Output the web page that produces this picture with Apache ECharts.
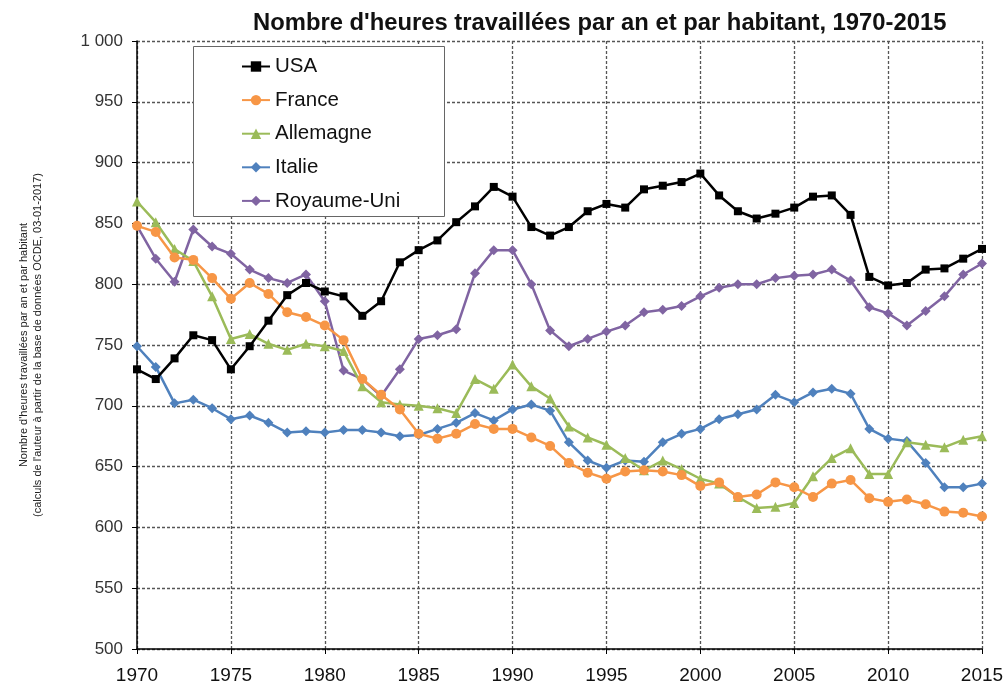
<!DOCTYPE html>
<html><head><meta charset="utf-8">
<script src="https://cdn.jsdelivr.net/npm/echarts@6/dist/echarts.min.js"></script>
<style>html,body{margin:0;padding:0;background:#fff}#c{width:1007px;height:688px}</style>
</head><body><div id="c"></div>
<script>
var years = [1970,1971,1972,1973,1974,1975,1976,1977,1978,1979,1980,1981,1982,1983,1984,1985,1986,1987,1988,1989,1990,1991,1992,1993,1994,1995,1996,1997,1998,1999,2000,2001,2002,2003,2004,2005,2006,2007,2008,2009,2010,2011,2012,2013,2014,2015];
var usa = [730,722,739,758,754,730,749,770,791,801,794,790,774,786,818,828,836,851,864,880,872,847,840,847,860,866,863,878,881,884,891,873,860,854,858,863,872,873,857,806,799,801,812,813,821,829];
var france = [848,843,822,820,805,788,801,792,777,773,766,754,722,709,697,677,673,677,685,681,681,674,667,653,645,640,646,647,646,643,634,637,625,627,637,633,625,636,639,624,621,623,619,613,612,609];
var allemagne = [868,851,829,819,790,755,759,751,746,751,749,745,716,703,701,700,698,694,722,714,734,716,706,683,674,668,657,647,655,648,640,636,625,616,617,620,642,657,665,644,644,670,668,666,672,675];
var italie = [749,732,702,705,698,689,692,686,678,679,678,680,680,678,675,676,681,686,694,688,697,701,696,670,655,649,655,654,670,677,681,689,693,697,709,703,711,714,710,681,673,671,653,633,633,636];
var royaumeUni = [848,821,802,845,831,825,812,805,801,808,786,729,722,708,730,755,758,763,809,828,828,800,762,749,755,761,766,777,779,782,790,797,800,800,805,807,808,812,803,781,776,766,778,790,808,817];
var seriesNames = ['USA','France','Allemagne','Italie','Royaume-Uni'];
var seriesValues = [usa, france, allemagne, italie, royaumeUni];
var colors = ['#000000','#f79646','#9bbb59','#4f81bd','#8064a2'];
var symbols = ['rect','circle','triangle','diamond','diamond'];
var symbolSizes = [8,10,10,10,10];
var titleText = "Nombre d'heures travaillées par an et par habitant, 1970-2015";
var yName = "Nombre d'heures travaillées par an et par habitant\n(calculs de l'auteur à partir de la base de données OCDE, 03-01-2017)";

var font = 'Liberation Sans, Arial, sans-serif';
var gridLine = {show:true, lineStyle:{color:'#555', type:[3,2], width:1.3}};
var series = seriesNames.map(function(n,i){
  return {
    name:n, type:'line',
    data: years.map(function(y,j){return [y, seriesValues[i][j]];}),
    symbol: symbols[i], symbolSize: symbolSizes[i],
    itemStyle:{color:colors[i]},
    lineStyle:{color:colors[i], width:2.5},
    z: 10 - i
  };
});
var chart = echarts.init(document.getElementById('c'), null, {renderer:'canvas'});
chart.setOption({
  backgroundColor:'#fff',
  animation:false,
  title:{text:titleText, left:248, top:6, textStyle:{fontFamily:font, fontWeight:'bold', fontSize:23.8, color:'#111'}},
  grid:{left:137, right:25, top:41, bottom:39},
  graphic:[{type:'rect', left:193, top:46, shape:{width:251, height:170}, style:{fill:'#fff', stroke:'#666', lineWidth:1}, z:50}],
  legend:{orient:'vertical', left:236, top:51, itemWidth:28, itemHeight:13, itemGap:12.6, z:60,
    data:seriesNames,
    textStyle:{fontFamily:font, fontSize:20.5, color:'#111', lineHeight:20}},
  xAxis:{type:'value', min:1970, max:2015, interval:5,
    axisLine:{show:true, lineStyle:{color:'#000', width:1.5}},
    axisTick:{show:true, length:5, lineStyle:{color:'#000'}},
    axisLabel:{fontFamily:font, fontSize:19, color:'#111', margin:17, formatter:function(v){return String(v);}},
    splitLine:gridLine},
  yAxis:{type:'value', min:500, max:1000, interval:50,
    name:yName, nameLocation:'middle', nameRotate:90, nameGap:92,
    nameTextStyle:{fontFamily:font, fontSize:11, color:'#222', lineHeight:14},
    axisLine:{show:true, lineStyle:{color:'#000', width:1.5}},
    axisTick:{show:true, length:5, lineStyle:{color:'#000'}},
    axisLabel:{fontFamily:font, fontSize:17, color:'#333', margin:14, formatter:function(v){return v>=1000? '1 000' : String(v);}},
    splitLine:gridLine},
  series:series
});
</script></body></html>
